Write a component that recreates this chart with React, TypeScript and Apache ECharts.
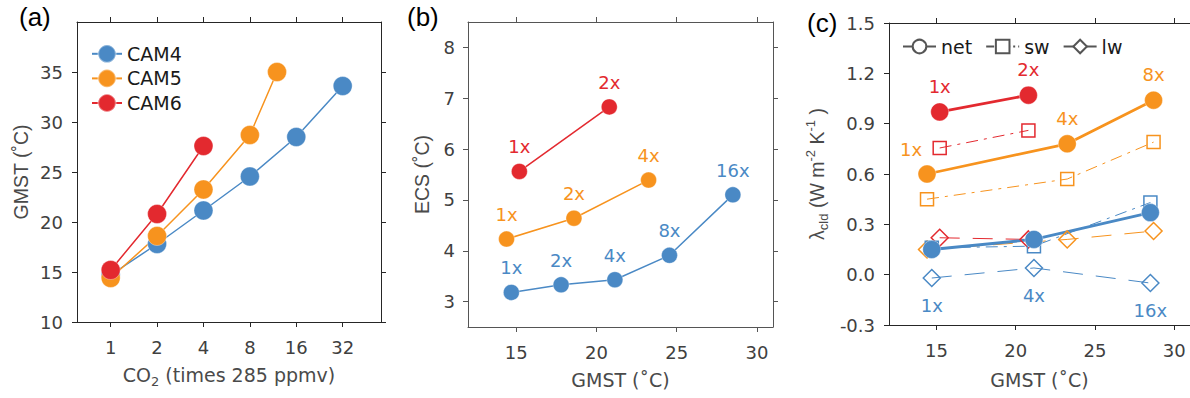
import React, { useEffect, useRef } from 'react';
import * as echarts from 'echarts';

// ---------- data ----------
const co2Cam4 = [1, 2, 4, 8, 16, 32];
const gmstCam4 = [14.7, 17.8, 21.15, 24.55, 28.5, 33.6];
const co2Cam5 = [1, 2, 4, 8, 12];
const gmstCam5 = [14.4, 18.6, 23.25, 28.7, 35.0];
const co2Cam6 = [1, 2, 4];
const gmstCam6 = [15.2, 20.8, 27.6];

// ECS at base climates (1x, 2x, ...)
const ecsCam4 = [3.18, 3.33, 3.43, 3.91, 5.1];
const ecsCam5 = [4.23, 4.64, 5.39];
const ecsCam6 = [5.56, 6.83];

// cloud feedback
const cldCo2Cam4 = [1, 4, 16];
const cldCo2Cam5 = [1, 4, 8];
const cldCo2Cam6 = [1, 2];
const netCam4 = [0.15, 0.21, 0.37];
const swCam4 = [0.16, 0.17, 0.43];
const lwCam4 = [-0.02, 0.04, -0.05];
const netCam5 = [0.6, 0.78, 1.04];
const swCam5 = [0.45, 0.57, 0.79];
const lwCam5 = [0.15, 0.21, 0.26];
const netCam6 = [0.97, 1.07];
const swCam6 = [0.755, 0.86];
const lwCam6 = [0.22, 0.21];

// tick labels
const co2Ticks = [1, 2, 4, 8, 16, 32];
const gmstTicksA = [10, 15, 20, 25, 30, 35];
const gmstTicksX = [15, 20, 25, 30];
const ecsTicks = [3, 4, 5, 6, 7, 8];
const lambdaTicks = [-0.3, 0, 0.3, 0.6, 0.9, 1.2, 1.5];

// ---------- styles ----------
const BLUE = '#4a89c5';
const ORANGE = '#f7931e';
const RED = '#e3292f';
const FONT = "'DejaVu Sans', sans-serif";
const TFONT = "'Liberation Sans', Arial, sans-serif";
const LABEL_COLOR = '#404040';
const TITLE_COLOR = '#4a4a4a';

const gmstAt = (co2: number[], gmst: number[], c: number) => gmst[co2.indexOf(c)];

function axisPair(
  dim: 'x' | 'y',
  grid: number,
  min: number,
  max: number,
  ticks: number[],
  fmt: (v: number) => string,
  lineColor: string,
  margin: number,
  extra: any
) {
  const base: any = {
    type: 'value',
    gridIndex: grid,
    min,
    max,
    splitLine: { show: false },
    axisLine: { show: true, onZero: false, lineStyle: { color: lineColor, width: 1 } },
    axisTick: { show: true, length: 5, customValues: ticks, lineStyle: { color: lineColor, width: 1 } },
  };
  return [
    {
      ...base,
      position: dim === 'x' ? 'bottom' : 'left',
      axisLabel: {
        customValues: ticks,
        formatter: fmt,
        margin,
        color: LABEL_COLOR,
        fontSize: 18,
        fontFamily: FONT,
      },
      ...extra,
    },
    {
      ...base,
      position: dim === 'x' ? 'top' : 'right',
      axisLabel: { show: false },
    },
  ];
}

const titleStyle = (rot: boolean) => {
  const fam = rot ? TFONT : FONT;
  const fs = rot ? 19.5 : 19;
  return {
    color: TITLE_COLOR,
    fontSize: fs,
    fontFamily: fam,
    lineHeight: 26,
    rich: {
      t: { color: TITLE_COLOR, fontSize: fs, fontFamily: fam, lineHeight: 26 },
      sub: { color: TITLE_COLOR, fontSize: 13, fontFamily: fam, lineHeight: 13, verticalAlign: 'bottom' },
      sup: { color: TITLE_COLOR, fontSize: 13, fontFamily: fam, lineHeight: 13, verticalAlign: 'top' },
    },
  };
};

const ptLabel = (color: string, position: string = 'top') => ({
  show: true,
  position,
  distance: 7,
  formatter: '{b}',
  color,
  fontSize: 18,
  fontFamily: FONT,
});

const filled = (color: string) => ({ color, borderColor: 'rgba(255,255,255,0.35)', borderWidth: 1 });
const hollow = (color: string) => ({ color: 'rgba(255,255,255,0)', borderColor: color, borderWidth: 1.5 });

const SW_DASH = [12, 6, 3, 6];
const LW_DASH = [20, 13];

function buildOption(): any {
  const log2 = (v: number) => Math.log2(v);

  const xAxes = [
    ...axisPair('x', 0, -0.726, 5.826, co2Ticks.map(log2), (v) => String(Math.round(Math.pow(2, v))), '#262626', 16, {
      name: '{t|CO}{sub|2}{t| (times 285 ppmv)}',
      nameLocation: 'middle',
      nameGap: 40,
      nameTextStyle: titleStyle(false),
    }),
    ...axisPair('x', 1, 12, 31, gmstTicksX, (v) => String(v), '#555555', 16, {
      name: '{t|GMST (˚C)}',
      nameLocation: 'middle',
      nameGap: 40,
      nameTextStyle: titleStyle(false),
    }),
    ...axisPair('x', 2, 12, 31, gmstTicksX, (v) => String(v), '#262626', 16, {
      name: '{t|GMST (˚C)}',
      nameLocation: 'middle',
      nameGap: 42,
      nameTextStyle: titleStyle(false),
    }),
  ];
  const yAxes = [
    ...axisPair('y', 0, 10, 40, gmstTicksA, (v) => String(v), '#262626', 14, {
      name: '{t|GMST (˚C)}',
      nameLocation: 'middle',
      nameGap: 43,
      nameTextStyle: titleStyle(true),
    }),
    ...axisPair('y', 1, 2.5, 8.5, ecsTicks, (v) => String(v), '#555555', 13, {
      name: '{t|ECS (˚C)}',
      nameLocation: 'middle',
      nameGap: 33,
      nameTextStyle: titleStyle(true),
    }),
    ...axisPair('y', 2, -0.3, 1.5, lambdaTicks, (v) => v.toFixed(1), '#262626', 14, {
      name: '{t|λ}{sub|cld}{t| (W m}{sup|-2}{t| K}{sup|-1}{t| )}',
      nameLocation: 'middle',
      nameGap: 59,
      nameTextStyle: titleStyle(true),
    }),
  ];

  const series: any[] = [];

  // ---- panel (a)
  const camA = [
    { name: 'CAM4', co2: co2Cam4, gmst: gmstCam4, color: BLUE },
    { name: 'CAM5', co2: co2Cam5, gmst: gmstCam5, color: ORANGE },
    { name: 'CAM6', co2: co2Cam6, gmst: gmstCam6, color: RED },
  ];
  camA.forEach((c) => {
    series.push({
      type: 'line',
      name: c.name,
      xAxisIndex: 0,
      yAxisIndex: 0,
      data: c.co2.map((v, i) => [log2(v), c.gmst[i]]),
      symbol: 'circle',
      symbolSize: 19,
      color: c.color,
      lineStyle: { color: c.color, width: 1.5 },
      itemStyle: filled(c.color),
    });
  });

  // ---- panel (b)
  const camB = [
    { name: 'CAM4 ECS', co2: co2Cam4, gmst: gmstCam4, ecs: ecsCam4, color: BLUE },
    { name: 'CAM5 ECS', co2: co2Cam5, gmst: gmstCam5, ecs: ecsCam5, color: ORANGE },
    { name: 'CAM6 ECS', co2: co2Cam6, gmst: gmstCam6, ecs: ecsCam6, color: RED },
  ];
  camB.forEach((c) => {
    series.push({
      type: 'line',
      name: c.name,
      xAxisIndex: 2,
      yAxisIndex: 2,
      data: c.ecs.map((e, i) => ({ name: `${c.co2[i]}x`, value: [c.gmst[i], e] })),
      symbol: 'circle',
      symbolSize: 16,
      color: c.color,
      lineStyle: { color: c.color, width: 1.5 },
      itemStyle: filled(c.color),
      label: ptLabel(c.color),
    });
  });

  // ---- panel (c)
  const camC = [
    { key: 'CAM6', co2: co2Cam6, gmst: gmstCam6, lv: cldCo2Cam6, net: netCam6, sw: swCam6, lw: lwCam6, color: RED },
    { key: 'CAM5', co2: co2Cam5, gmst: gmstCam5, lv: cldCo2Cam5, net: netCam5, sw: swCam5, lw: lwCam5, color: ORANGE },
    { key: 'CAM4', co2: co2Cam4, gmst: gmstCam4, lv: cldCo2Cam4, net: netCam4, sw: swCam4, lw: lwCam4, color: BLUE },
  ];
  const pts = (c: any, vals: number[]) =>
    c.lv.map((lv: number, i: number) => ({ name: `${lv}x`, value: [gmstAt(c.co2, c.gmst, lv), vals[i]] }));

  camC.forEach((c) => {
    series.push({
      type: 'line',
      name: c.key + ' lw',
      xAxisIndex: 4,
      yAxisIndex: 4,
      data: pts(c, c.lw),
      symbol: 'diamond',
      symbolSize: 17,
      color: c.color,
      lineStyle: { color: c.color, width: 1, type: LW_DASH },
      itemStyle: hollow(c.color),
      label: c.key === 'CAM4' ? { ...ptLabel(c.color, 'bottom'), distance: 9 } : { show: false },
    });
  });
  camC.forEach((c) => {
    series.push({
      type: 'line',
      name: c.key + ' sw',
      xAxisIndex: 4,
      yAxisIndex: 4,
      data: pts(c, c.sw),
      symbol: 'rect',
      symbolSize: 13,
      color: c.color,
      lineStyle: { color: c.color, width: 1, type: SW_DASH },
      itemStyle: hollow(c.color),
    });
  });
  camC.forEach((c) => {
    const data = pts(c, c.net).map((d: any) =>
      c.key === 'CAM5' && d.name === '1x' ? { ...d, label: { offset: [-16, 1] } } : d
    );
    series.push({
      type: 'line',
      name: c.key + ' net',
      xAxisIndex: 4,
      yAxisIndex: 4,
      data,
      symbol: 'circle',
      symbolSize: 18,
      color: c.color,
      lineStyle: { color: c.color, width: 2.8 },
      itemStyle: filled(c.color),
      label: c.key === 'CAM4' ? { show: false } : ptLabel(c.color),
    });
  });

  // legend-only series for panel (c)
  const LG = '#555555';
  series.push(
    { type: 'line', name: 'net', xAxisIndex: 4, yAxisIndex: 4, data: [], symbol: 'emptyCircle', color: LG, lineStyle: { color: LG, width: 3 }, itemStyle: { color: LG } },
    { type: 'line', name: 'sw', xAxisIndex: 4, yAxisIndex: 4, data: [], symbol: 'emptyRect', color: LG, lineStyle: { color: LG, width: 1, type: [8, 3, 2, 3] }, itemStyle: { color: LG } },
    { type: 'line', name: 'lw', xAxisIndex: 4, yAxisIndex: 4, data: [], symbol: 'emptyDiamond', color: LG, lineStyle: { color: LG, width: 1 }, itemStyle: { color: LG } }
  );

  return {
    animation: false,
    backgroundColor: '#ffffff',
    grid: [
      { left: 77, top: 22, width: 304, height: 300 },
      { left: 468, top: 22, width: 305, height: 305 },
      { left: 889, top: 23, width: 304, height: 302 },
    ],
    xAxis: xAxes,
    yAxis: yAxes,
    legend: [
      {
        data: ['CAM4', 'CAM5', 'CAM6'],
        orient: 'vertical',
        left: 86,
        top: 39,
        itemWidth: 30,
        itemHeight: 22,
        itemGap: 5,
        selectedMode: false,
        textStyle: { color: '#1a1a1a', fontSize: 19, fontFamily: FONT },
      },
      {
        data: ['net', 'sw', 'lw'],
        orient: 'horizontal',
        left: 897,
        top: 32,
        itemWidth: 33,
        itemHeight: 17,
        itemGap: 13,
        selectedMode: false,
        textStyle: { color: '#1a1a1a', fontSize: 19, fontFamily: FONT },
      },
    ],
    graphic: [
      { type: 'text', left: 19, top: 4, style: { text: '(a)', fontSize: 26, fontFamily: TFONT, fill: '#000' } },
      { type: 'text', left: 407, top: 4, style: { text: '(b)', fontSize: 26, fontFamily: TFONT, fill: '#000' } },
      { type: 'text', left: 807, top: 10, style: { text: '(c)', fontSize: 26, fontFamily: TFONT, fill: '#000' } },
    ],
    series,
  };
}

export default function App() {
  const ref = useRef<HTMLDivElement>(null);
  useEffect(() => {
    if (!ref.current) return;
    const chart = echarts.init(ref.current, undefined, { renderer: 'svg' });
    chart.setOption(buildOption());
    return () => chart.dispose();
  }, []);
  return (
    <div
      ref={ref}
      style={{ position: 'absolute', left: 0, top: 0, width: 1190, height: 398, background: '#fff' }}
    />
  );
}
